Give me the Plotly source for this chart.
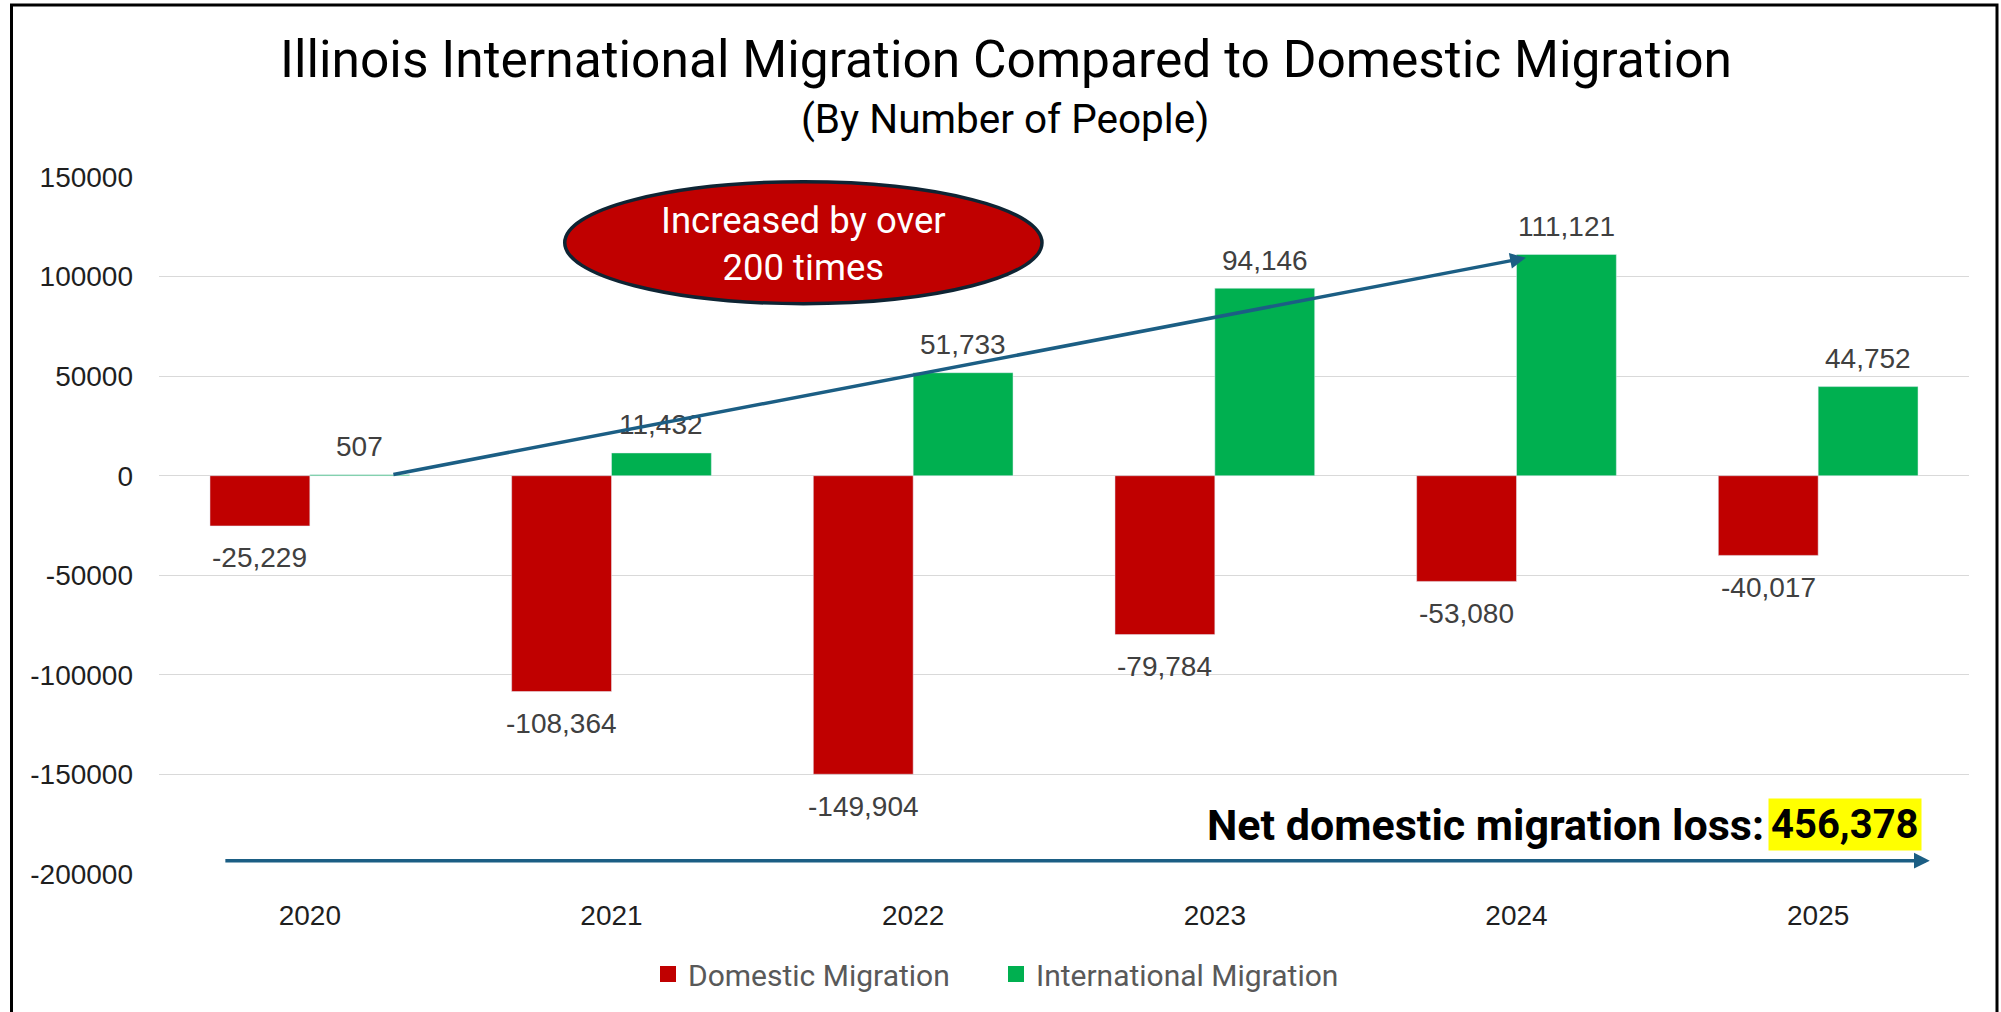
import plotly.graph_objects as go

years = ["2020", "2021", "2022", "2023", "2024", "2025"]
domestic = [-25229, -108364, -149904, -79784, -53080, -40017]
international = [507, 11432, 51733, 94146, 111121, 44752]
y_tickvals = [-200000, -150000, -100000, -50000, 0, 50000, 100000, 150000]
y_ticktext = ["-200000", "-150000", "-100000", "-50000", "0", "50000", "100000", "150000"]
net_loss_label = "456,378"
ellipse_text = "Increased by over<br>200 times"

RED = "#C00000"
GREEN = "#00B050"
ARROW = "#1B5E84"
LABEL_FONT = "Liberation Sans, Arial, sans-serif"
TEXT_FONT = "Roboto, sans-serif"

fig = go.Figure()
fig.add_trace(go.Bar(x=years, y=domestic, name="Domestic Migration", marker_color=RED, showlegend=False))
fig.add_trace(go.Bar(x=years, y=international, name="International Migration", marker_color=GREEN, showlegend=False))
# legend entries with larger square swatches
fig.add_trace(go.Scatter(x=[None], y=[None], mode="markers", name="Domestic Migration",
                         marker=dict(symbol="square", size=18, color=RED)))
fig.add_trace(go.Scatter(x=[None], y=[None], mode="markers", name="International Migration",
                         marker=dict(symbol="square", size=18, color=GREEN)))

# plot area geometry (pixels)
L, R, T, B = 159, 32, 177, 138
W, H = 2001, 1012
PW, PH = W - L - R, H - T - B

def px_x(p):
    return (p - L) / PW

def px_y(p):
    return (H - B - p) / PH

half = (1 - 0.338) / 4  # bar center offset within group

annotations = []
for i, v in enumerate(domestic):
    annotations.append(dict(x=i - half, y=v, xref="x", yref="y", text=f"{v:,}", showarrow=False,
                            yshift=-32 if v < 0 else 28, yanchor="middle",
                            font=dict(family=LABEL_FONT, size=28, color="#404040")))
for i, v in enumerate(international):
    annotations.append(dict(x=i + half, y=v, xref="x", yref="y", text=f"{v:,}", showarrow=False,
                            yshift=-32 if v < 0 else 28, yanchor="middle",
                            font=dict(family=LABEL_FONT, size=28, color="#404040")))

# diagonal arrow (growth of international migration)
annotations.append(dict(x=4.031, y=109400, ax=0.272, ay=500, xref="x", yref="y", axref="x", ayref="y",
                        text="", showarrow=True, arrowhead=2, arrowsize=0.9, arrowwidth=3.5,
                        arrowcolor=ARROW, standoff=0, startstandoff=0))
# horizontal arrow (net domestic loss)
annotations.append(dict(x=5.37, y=-193300, ax=-0.285, ay=-193300, xref="x", yref="y", axref="x", ayref="y",
                        text="", showarrow=True, arrowhead=2, arrowsize=0.9, arrowwidth=3.5,
                        arrowcolor=ARROW, standoff=0, startstandoff=0))

# ellipse text
annotations.append(dict(x=1.636, y=116500, xref="x", yref="y", text=ellipse_text, showarrow=False,
                        font=dict(family=TEXT_FONT, size=36.5, color="white"), align="center"))

# net loss text
annotations.append(dict(x=5.3436, y=-175250, xref="x", yref="y", text="<b>" + net_loss_label + "</b>",
                        showarrow=False, xanchor="right", yanchor="middle", bgcolor="#FFFF00", borderpad=2,
                        font=dict(family=TEXT_FONT, size=40, color="black")))
annotations.append(dict(x=4.826, y=-175250, xref="x", yref="y", text="<b>Net domestic migration loss:</b>",
                        showarrow=False, xanchor="right", yanchor="middle",
                        font=dict(family=TEXT_FONT, size=43, color="black")))

# subtitle
annotations.append(dict(x=px_x(1005), y=px_y(119), xref="paper", yref="paper", text="(By Number of People)",
                        showarrow=False, xanchor="center", yanchor="middle",
                        font=dict(family=TEXT_FONT, size=40.5, color="black")))

shapes = [
    dict(type="circle", xref="x", yref="y", x0=0.845, x1=2.427, y0=86400, y1=147600,
         fillcolor=RED, line=dict(color="#0E2433", width=3.5), layer="above"),
    dict(type="rect", xref="paper", yref="paper", x0=px_x(11.5), x1=px_x(1997), y0=px_y(1020), y1=px_y(5),
         line=dict(color="black", width=3), fillcolor="rgba(0,0,0,0)", layer="above"),
]

fig.update_layout(
    width=W, height=H,
    margin=dict(l=L, r=R, t=T, b=B, pad=0),
    paper_bgcolor="white", plot_bgcolor="white",
    barmode="group", bargap=0.338, bargroupgap=0,
    title=dict(text="Illinois International Migration Compared to Domestic Migration",
               x=1006 / W, xref="container", xanchor="center",
               y=1 - 59 / H, yref="container", yanchor="middle",
               font=dict(family=TEXT_FONT, size=51.5, color="black")),
    legend=dict(orientation="h", x=px_x(648), xanchor="left", y=px_y(974), yanchor="middle",
                entrywidth=303, entrywidthmode="pixels",
                font=dict(family=TEXT_FONT, size=30, color="#595959"), bgcolor="rgba(0,0,0,0)"),
    annotations=annotations,
    shapes=shapes,
    xaxis=dict(type="category", showgrid=False, zeroline=False, showline=False, ticks="",
               tickfont=dict(family=LABEL_FONT, size=28, color="#1F1F1F"), ticklabelstandoff=22),
    yaxis=dict(range=[-200000, 150000], tickvals=y_tickvals, ticktext=y_ticktext,
               showgrid=True, gridcolor="#D9D9D9", gridwidth=1.3,
               zeroline=True, zerolinecolor="#D9D9D9", zerolinewidth=1.3, showline=False, ticks="",
               tickfont=dict(family=LABEL_FONT, size=28, color="#1F1F1F"), ticklabelstandoff=25),
)

fig.write_html("out.html", config={"displayModeBar": False},
               post_script="document.body.style.margin='0';document.body.style.overflow='hidden';")
